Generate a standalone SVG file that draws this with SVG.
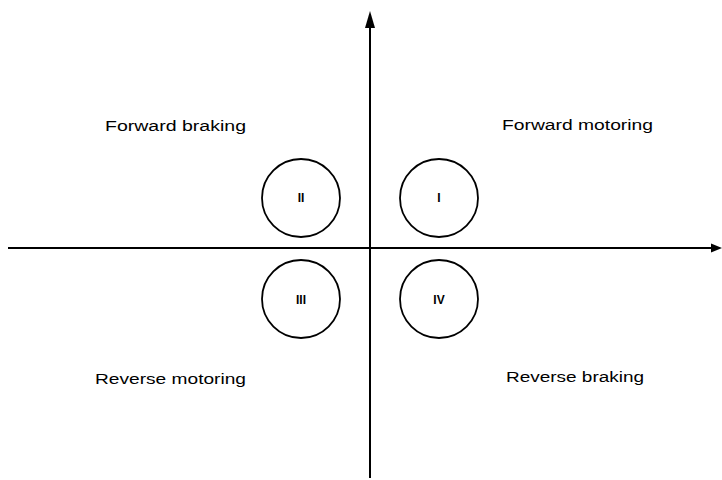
<svg xmlns="http://www.w3.org/2000/svg" width="722" height="480" viewBox="0 0 722 480">
<style>
.lbl{font-family:"Liberation Sans",Arial,sans-serif;font-size:14px;fill:#000}
.num{font-family:"Liberation Sans",Arial,sans-serif;font-size:12px;font-weight:bold;fill:#000;text-anchor:middle}
.c{fill:none;stroke:#000;stroke-width:1.8}
.ax{stroke:#000;stroke-width:2;fill:none}
</style>
<rect width="722" height="480" fill="#fff"/>
<g id="connectors">
<line class="ax" x1="370" y1="24" x2="370" y2="478"/>
<polygon points="370,11 365,28 375,28" fill="#000"/>
<line class="ax" x1="8" y1="248" x2="712" y2="248"/>
<polygon points="722,248 711,243.5 711,252.5" fill="#000"/>
</g>
<g id="q2"><circle class="c" cx="301" cy="198" r="39"/><text class="num" x="301" y="202">II</text></g>
<g id="q1"><circle class="c" cx="439" cy="198" r="39"/><text class="num" x="439" y="202">I</text></g>
<g id="q3"><circle class="c" cx="301" cy="299" r="39"/><text class="num" x="301" y="304">III</text></g>
<g id="q4"><circle class="c" cx="439" cy="299" r="39"/><text class="num" x="439" y="304">IV</text></g>
<g id="lbl-fb"><text class="lbl" x="105" y="131" textLength="141" lengthAdjust="spacingAndGlyphs">Forward braking</text></g>
<g id="lbl-fm"><text class="lbl" x="502" y="130" textLength="151" lengthAdjust="spacingAndGlyphs">Forward motoring</text></g>
<g id="lbl-rm"><text class="lbl" x="95" y="384" textLength="151" lengthAdjust="spacingAndGlyphs">Reverse motoring</text></g>
<g id="lbl-rb"><text class="lbl" x="506" y="382" textLength="138" lengthAdjust="spacingAndGlyphs">Reverse braking</text></g>
</svg>
